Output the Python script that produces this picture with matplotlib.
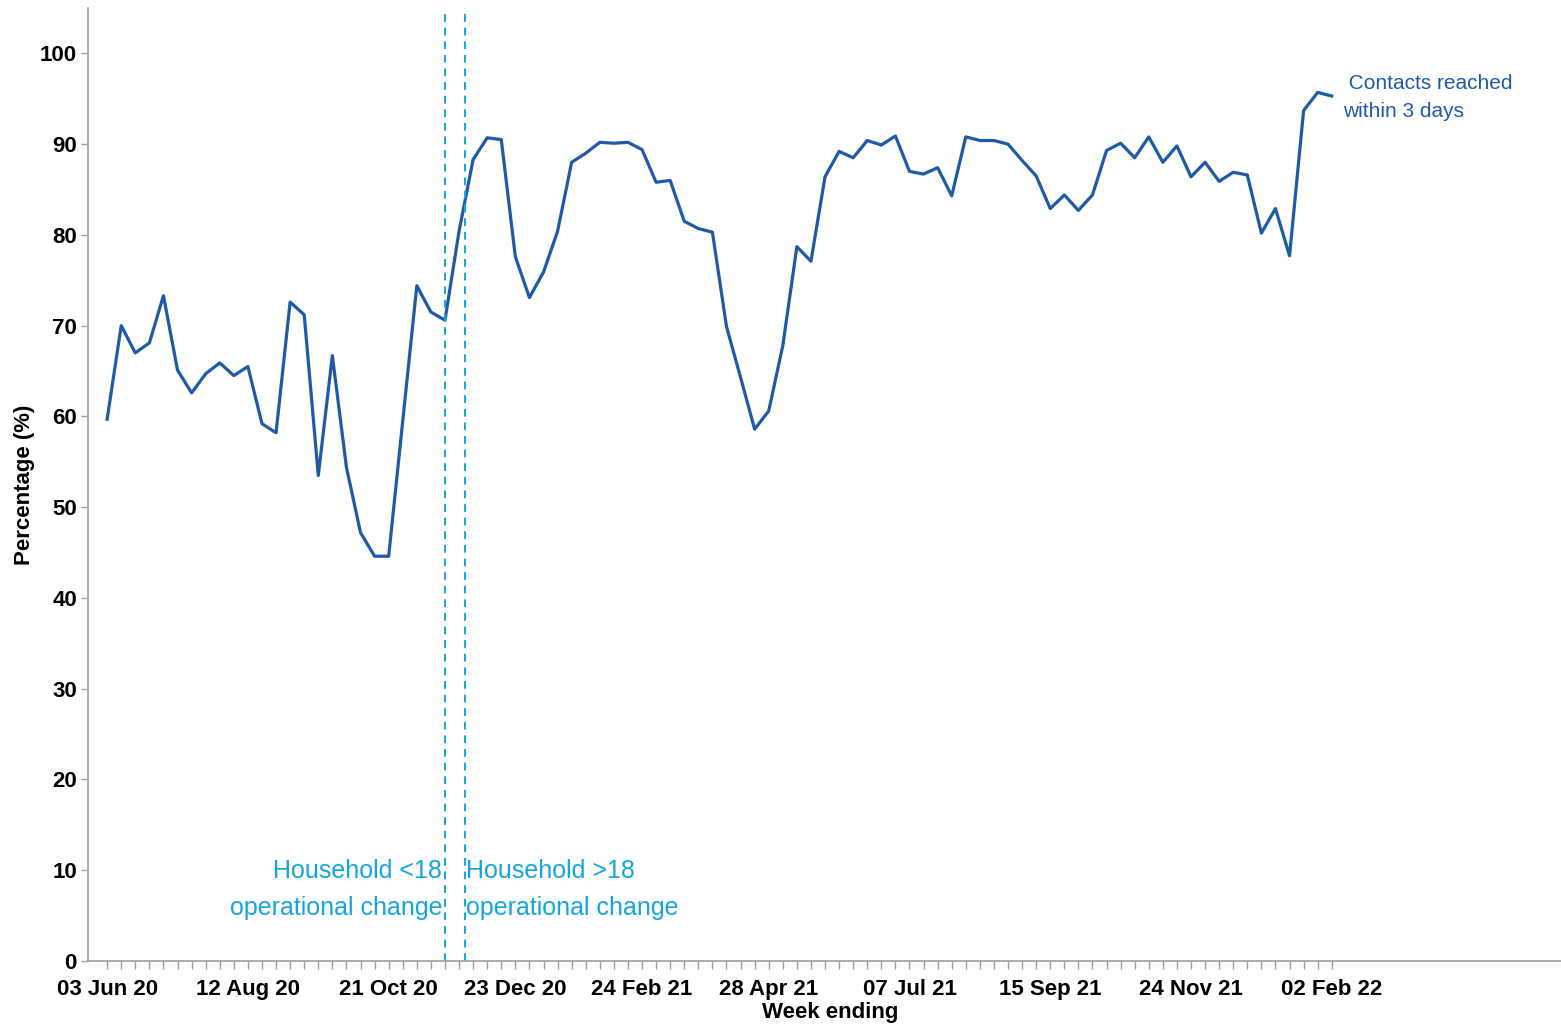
# -*- coding: utf-8 -*-
# contacts_reached_within_3_days.py

#%% Import packages

import pandas as pd
import matplotlib.pyplot as plt
import matplotlib.dates as mdates


#%% Data

FIRST_WEEK = '2020-06-03'

# Percentage of contacts reached within 3 days, one value per week ending
reached_pct = [
    59.7, 70.0, 67.0, 68.1, 73.3, 65.1, 62.6, 64.7, 65.9, 64.5,
    65.5, 59.2, 58.2, 72.6, 71.2, 53.5, 66.7, 54.4, 47.2, 44.6,
    44.6, 59.5, 74.4, 71.5, 70.6, 80.4, 88.3, 90.7, 90.5, 77.6,
    73.1, 75.9, 80.4, 88.0, 89.0, 90.2, 90.1, 90.2, 89.4, 85.8,
    86.0, 81.5, 80.7, 80.3, 69.9, 64.3, 58.6, 60.6, 67.8, 78.7,
    77.1, 86.4, 89.2, 88.5, 90.4, 89.9, 90.9, 87.0, 86.7, 87.4,
    84.3, 90.8, 90.4, 90.4, 90.0, 88.2, 86.5, 82.9, 84.4, 82.7,
    84.4, 89.3, 90.1, 88.5, 90.8, 88.0, 89.8, 86.4, 88.0, 85.9,
    86.9, 86.6, 80.2, 82.9, 77.7, 93.7, 95.7, 95.3,
]

tick_dates = ['2020-06-03', '2020-08-12', '2020-10-21', '2020-12-23',
              '2021-02-24', '2021-04-28', '2021-07-07', '2021-09-15',
              '2021-11-24', '2022-02-02']

change_dates = ['2020-11-18', '2020-11-28']
change_labels = ['Household <18\noperational change',
                 'Household >18\noperational change']


#%% Plot

LINE_BLUE = '#1f5aa7'
LIGHT_BLUE = '#14a6df'
AXIS_GREY = '#a0a0a0'

plt.rcParams['font.family'] = ['Liberation Sans', 'DejaVu Sans']

weeks = pd.date_range(FIRST_WEEK, periods=len(reached_pct), freq='7D')
ticks = pd.to_datetime(tick_dates)
changes = pd.to_datetime(change_dates)

fig = plt.figure(figsize=(15.61, 10.24), dpi=100)
ax = fig.add_axes([0.0564, 0.0615, 0.9436, 0.9307])

ax.plot(weeks, reached_pct, color=LINE_BLUE, linewidth=2.3)

for d in changes:
    ax.axvline(d, color=LIGHT_BLUE, linewidth=1.4, linestyle=(0, (4, 3)))

# labels either side of the operational change lines
left_lines = change_labels[0].split('\n')
right_lines = change_labels[1].split('\n')
for txt, yv in zip(left_lines, [9.9, 5.8]):
    ax.annotate(txt, xy=(changes[0], yv), xytext=(-2, 0),
                textcoords='offset points', color=LIGHT_BLUE,
                fontsize=18, ha='right', va='center')
for txt, yv in zip(right_lines, [9.9, 5.8]):
    ax.annotate(txt, xy=(changes[1], yv), xytext=(1, 0),
                textcoords='offset points', color=LIGHT_BLUE,
                fontsize=18, ha='left', va='center')

ax.annotate(' Contacts reached\nwithin 3 days', xy=(weeks[-1], reached_pct[-1]),
            xytext=(8, -1), textcoords='offset points', color=LINE_BLUE,
            fontsize=15, ha='left', va='center', linespacing=1.6)

ax.set_xlim(weeks[0] - pd.Timedelta(days=9.5), weeks[0] + pd.Timedelta(days=723))
ax.set_ylim(0, 105)
ax.set_yticks(range(0, 101, 10))
ax.set_xticks(ticks)
ax.set_xticks(weeks, minor=True)
ax.xaxis.set_major_formatter(mdates.DateFormatter('%d %b %y'))

for s in ['top', 'right']:
    ax.spines[s].set_visible(False)
for s in ['left', 'bottom']:
    ax.spines[s].set_color(AXIS_GREY)
    ax.spines[s].set_linewidth(1.2)

ax.tick_params(axis='x', which='both', length=6, color=AXIS_GREY, width=1,
               labelsize=16, pad=7)
ax.tick_params(axis='y', length=5, color=AXIS_GREY, width=1, labelsize=16,
               pad=3)
for lbl in ax.get_xticklabels() + ax.get_yticklabels():
    lbl.set_fontweight('bold')

ax.set_xlabel('Week ending', fontsize=16, fontweight='bold')
ax.xaxis.set_label_coords(0.504, -0.043)
ax.set_ylabel('Percentage (%)', fontsize=16, fontweight='bold')
ax.yaxis.set_label_coords(-0.036, 0.5)

plt.savefig('out.png', dpi=100)
